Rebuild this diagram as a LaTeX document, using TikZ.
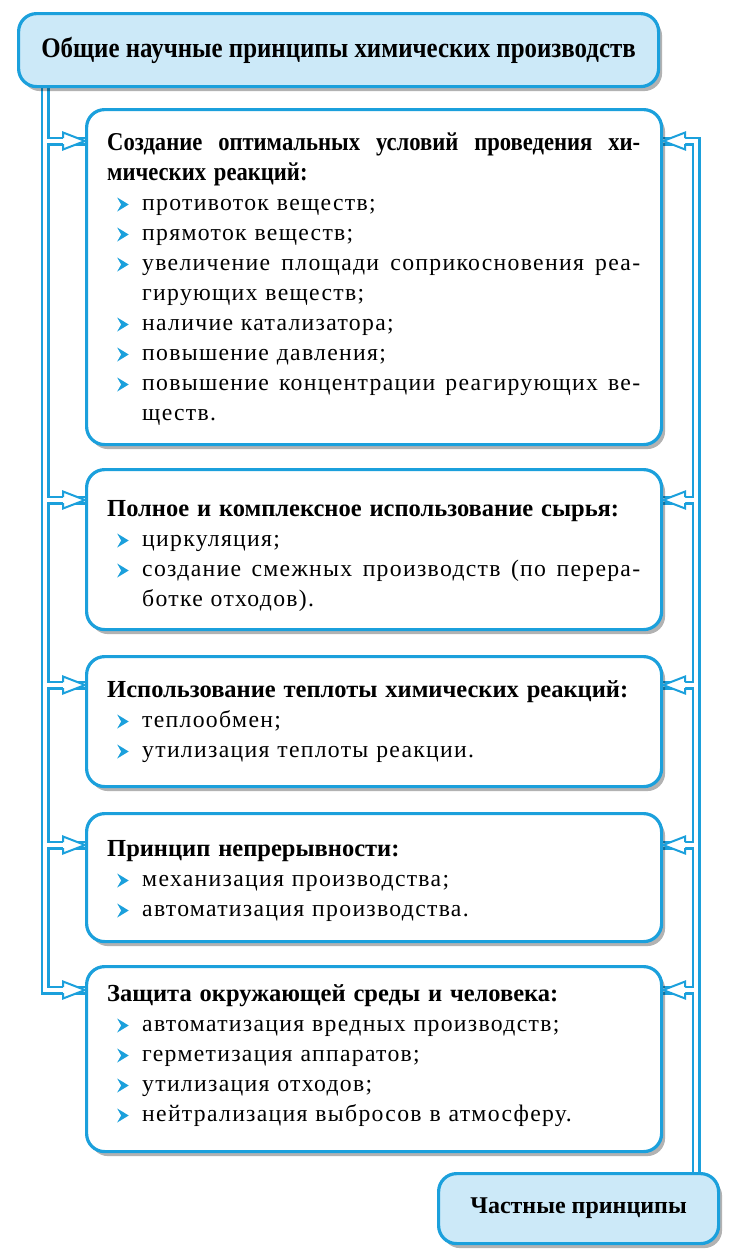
\documentclass[tikz,border=0pt]{standalone}
\usepackage{fontspec}
\setmainfont{Liberation Serif}
\newfontfamily\bodyf[LetterSpace=5.5]{Liberation Serif}
\newfontfamily\condf[FakeStretch=0.88]{Liberation Serif}
\usetikzlibrary{shadows}
\definecolor{bblue}{RGB}{27,160,220}
\definecolor{lblue}{RGB}{204,233,248}
\pgfdeclarelayer{background}
\pgfsetlayers{background,main}
\newcommand\bulmark{\tikz[x=1pt,y=1pt,baseline=0pt]\fill[bblue] (0,-1.5) -- (11.5,5.5) -- (0,12.5) -- (4,5.5) -- cycle;}
\newcommand\Bx{\makebox[35pt][l]{\hspace*{10pt}\bulmark}}
\newcommand\stretchsp{\spaceskip=0.25em plus 1fil\relax\xspaceskip=\spaceskip}
\newcommand\J[1]{{\stretchsp\makebox[533pt][s]{#1}}}
\newcommand\BJ[1]{\Bx{\stretchsp\makebox[498pt][s]{#1}}}
\newcommand\BR[1]{\Bx#1}
\newcommand\CR[1]{\hspace*{35pt}#1}
\newcommand\hbig{\condf\fontsize{25.7pt}{30pt}\selectfont\bfseries}
\newcommand\hsm{\rmfamily\fontsize{24.5pt}{30pt}\selectfont\bfseries}
\begin{document}
\begin{tikzpicture}[x=1pt,y=-1pt,
  box/.style={draw=bblue, line width=3.2pt, rounded corners=18pt, fill=white,
    drop shadow={shadow xshift=3.5pt,shadow yshift=-4.5pt,fill=black,opacity=0.3},
    anchor=north west, inner sep=0pt},
  hbox/.style={box, fill=lblue},
  txt/.style={anchor=base west, inner sep=0pt, text width=533pt,
    font=\bodyf\fontsize{23.7pt}{30pt}\selectfont},
  ahead/.pic={
    \fill[white] (0,0) -- (-22,-8.5) -- (-22,8.5) -- cycle;
    \draw[bblue, line width=2pt, line join=miter] (-22,-3) -- (-22,-8.5) -- (0,0) -- (-22,8.5) -- (-22,3);}
]
\useasboundingbox (0,0) rectangle (732,1253);
\begin{pgfonlayer}{background}
\fill[white] (0,0) rectangle (732,1253);
\end{pgfonlayer}

\node[hbox, minimum width=640pt, minimum height=73pt] (top) at (17,12)
  {\condf\fontsize{28.3pt}{30pt}\selectfont\bfseries Общие научные принципы химических производств};

\node[box, minimum width=575pt, minimum height=335pt] (b1) at (85,108) {};
\node[box, minimum width=575pt, minimum height=160pt] (b2) at (85,468) {};
\node[box, minimum width=575pt, minimum height=130pt] (b3) at (85,655) {};
\node[box, minimum width=575pt, minimum height=128pt] (b4) at (85,812) {};
\node[box, minimum width=575pt, minimum height=185pt] (b5) at (85,965) {};
\node[hbox, minimum width=280pt, minimum height=70pt] (bot) at (437,1172)
  {\fontsize{24pt}{28pt}\selectfont\bfseries Частные принципы};

\node[txt] (t1) at (107,150) {%
\J{\hbig Создание оптимальных условий проведения хи-}\\
{\hbig мических реакций:}\\
\BR{противоток веществ;}\\
\BR{прямоток веществ;}\\
\BJ{увеличение площади соприкосновения реа-}\\
\CR{гирующих веществ;}\\
\BR{наличие катализатора;}\\
\BR{повышение давления;}\\
\BJ{повышение концентрации реагирующих ве-}\\
\CR{ществ.}};

\node[txt] (t2) at (107,516) {%
{\hsm Полное и комплексное использование сырья:}\\
\BR{циркуляция;}\\
\BJ{создание смежных производств (по перера-}\\
\CR{ботке отходов).}};

\node[txt] (t3) at (107,697) {%
{\hsm Использование теплоты химических реакций:}\\
\BR{теплообмен;}\\
\BR{утилизация теплоты реакции.}};

\node[txt] (t4) at (107,856) {%
{\hsm Принцип непрерывности:}\\
\BR{механизация производства;}\\
\BR{автоматизация производства.}};

\node[txt] (t5) at (107,1001) {%
{\hsm Защита окружающей среды и человека:}\\
\BR{автоматизация вредных производств;}\\
\BR{герметизация аппаратов;}\\
\BR{утилизация отходов;}\\
\BR{нейтрализация выбросов в атмосферу.}};

\coordinate (L) at (45,0);
\coordinate (R) at (696,0);
\coordinate (a1) at ([yshift=-33pt]b1.north west);
\coordinate (a2) at ([yshift=-32pt]b2.north west);
\coordinate (a3) at ([yshift=-30pt]b3.north west);
\coordinate (a4) at ([yshift=-33pt]b4.north west);
\coordinate (a5) at ([yshift=-25pt]b5.north west);
\coordinate (r1) at ([yshift=-33pt]b1.north east);
\coordinate (r2) at ([yshift=-32pt]b2.north east);
\coordinate (r3) at ([yshift=-30pt]b3.north east);
\coordinate (r4) at ([yshift=-33pt]b4.north east);
\coordinate (r5) at ([yshift=-25pt]b5.north east);

\begin{pgfonlayer}{background}
\foreach \w/\c in {9/bblue,3.6/white}{
  \draw[line width=\w pt, \c, line join=miter]
    (top.south -| L) -- (L |- a5) -- (a5)
    (L |- a1) -- (a1) (L |- a2) -- (a2) (L |- a3) -- (a3) (L |- a4) -- (a4)
    (bot.north -| R) -- (R |- r1) -- (r1)
    (R |- r2) -- (r2) (R |- r3) -- (r3) (R |- r4) -- (r4) (R |- r5) -- (r5);
}
\end{pgfonlayer}

\foreach \p in {a1,a2,a3,a4,a5}{\pic at (\p) {ahead};}
\foreach \p in {r1,r2,r3,r4,r5}{\pic[rotate=180] at (\p) {ahead};}
\end{tikzpicture}
\end{document}
